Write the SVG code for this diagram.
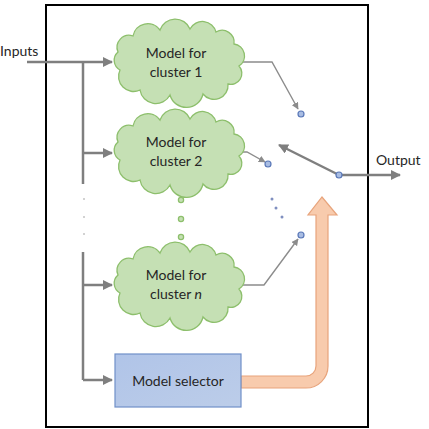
<svg xmlns="http://www.w3.org/2000/svg" width="429" height="429" viewBox="0 0 429 429">
<style>
.lbl{font-family:Lato,"Open Sans","Liberation Sans",sans-serif;font-size:14px;fill:#262626;text-anchor:middle}
.cloud{fill:#c5e0b4;stroke:#8dbf6c;stroke-width:1.3}
.feed{stroke:#7f7f7f;stroke-width:2.5;fill:none}
.thin{stroke:#8c8c8c;stroke-width:1.4;fill:none}
.contact{fill:#a9bde3;stroke:#5a78b8;stroke-width:1.2}
</style>
<defs>
<path id="cloudShape" d="M-58,8 A11,11 0 0 1 -60,-10 A12,12 0 0 1 -45,-26 A15,15 0 0 1 -18,-32 A16,16 0 0 1 12,-33 A14,14 0 0 1 38,-30 A12,12 0 0 1 56,-18 A12,12 0 0 1 61,4 A11,11 0 0 1 50,22 A14,14 0 0 1 25,32 A17,17 0 0 1 -8,33 A16,16 0 0 1 -38,28 A15,15 0 0 1 -58,8 Z"/>
<marker id="ah" viewBox="0 0 10 10" refX="9" refY="5" markerWidth="4" markerHeight="4" orient="auto" markerUnits="strokeWidth"><path d="M0,0 L10,5 L0,10 Z" fill="#7f7f7f"/></marker>
<marker id="ahs" viewBox="0 0 10 10" refX="9" refY="5" markerWidth="5" markerHeight="5" orient="auto" markerUnits="strokeWidth"><path d="M0,0 L10,5 L0,10 Z" fill="#8c8c8c"/></marker>
<linearGradient id="selg" x1="0" y1="0" x2="1" y2="1"><stop offset="0" stop-color="#b0c4e8"/><stop offset="1" stop-color="#bccde9"/></linearGradient>
</defs>
<rect x="0" y="0" width="429" height="429" fill="#ffffff"/>
<rect id="frame" x="46" y="5" width="322" height="422" fill="none" stroke="#000" stroke-width="2"/>
<g id="connectors">
<path class="feed" d="M27,62 H112" marker-end="url(#ah)"/>
<path class="feed" d="M83,62 V184"/>
<path class="feed" d="M83,252 V380"/>
<path class="feed" d="M83,153 H112" marker-end="url(#ah)"/>
<path class="feed" d="M83,285 H112" marker-end="url(#ah)"/>
<path class="feed" d="M83,380 H112" marker-end="url(#ah)"/>
<path class="thin" d="M242,62 H272 L298,109" marker-end="url(#ahs)"/>
<path class="thin" d="M242,152 H247 L265,162" marker-end="url(#ahs)"/>
<path class="thin" d="M242,285 H264 L298,239" marker-end="url(#ahs)"/>
<path class="feed" d="M339,175 L279,145" stroke-width="3" marker-end="url(#ah)"/>
<path class="feed" d="M339,175 H400" stroke-width="3" marker-end="url(#ah)"/>
<path id="selectArrow" d="M241,376 H306 A10,10 0 0 0 316,366 V215 H308 L322,197 L337,215 H328 V366 A22,22 0 0 1 306,388 H241 Z" fill="#f8cbad" stroke="#e8a47c" stroke-width="1.2"/>
</g>
<g id="inputDots" fill="#9a9a9a">
<circle cx="84" cy="199" r="0.8"/><circle cx="84" cy="217" r="0.8"/><circle cx="84" cy="234" r="0.8"/>
</g>
<g id="cloud1">
<use href="#cloudShape" class="cloud" transform="translate(178,62)"/>
<text class="lbl" x="176" y="58">Model for</text>
<text class="lbl" x="176" y="77">cluster 1</text>
</g>
<g id="cloud2">
<use href="#cloudShape" class="cloud" transform="translate(178,152)"/>
<text class="lbl" x="176" y="147">Model for</text>
<text class="lbl" x="176" y="166">cluster 2</text>
</g>
<g id="clusterDots" class="cloud">
<circle cx="181" cy="200" r="2.6"/><circle cx="181" cy="219" r="2.6"/><circle cx="181" cy="237" r="2.6"/>
</g>
<g id="cloudN">
<use href="#cloudShape" class="cloud" transform="translate(178,285)"/>
<text class="lbl" x="176" y="280">Model for</text>
<text class="lbl" x="176" y="299">cluster <tspan font-style="italic">n</tspan></text>
</g>
<g id="selector">
<rect x="115" y="354" width="126" height="53" fill="url(#selg)" stroke="#7090c8" stroke-width="1.2"/>
<text class="lbl" x="178" y="386">Model selector</text>
</g>
<g id="contacts">
<circle class="contact" cx="301" cy="114" r="3"/>
<circle class="contact" cx="268" cy="164" r="3"/>
<circle class="contact" cx="301" cy="235" r="3"/>
<circle class="contact" cx="339" cy="175" r="3"/>
<g fill="#7f8fc0"><circle cx="272" cy="199" r="1.5"/><circle cx="276" cy="208" r="1.5"/><circle cx="282" cy="217" r="1.5"/></g>
</g>
<text id="inputs" class="lbl" x="0" y="56" style="text-anchor:start">Inputs</text>
<text id="output" class="lbl" x="376" y="165" style="text-anchor:start">Output</text>
</svg>
